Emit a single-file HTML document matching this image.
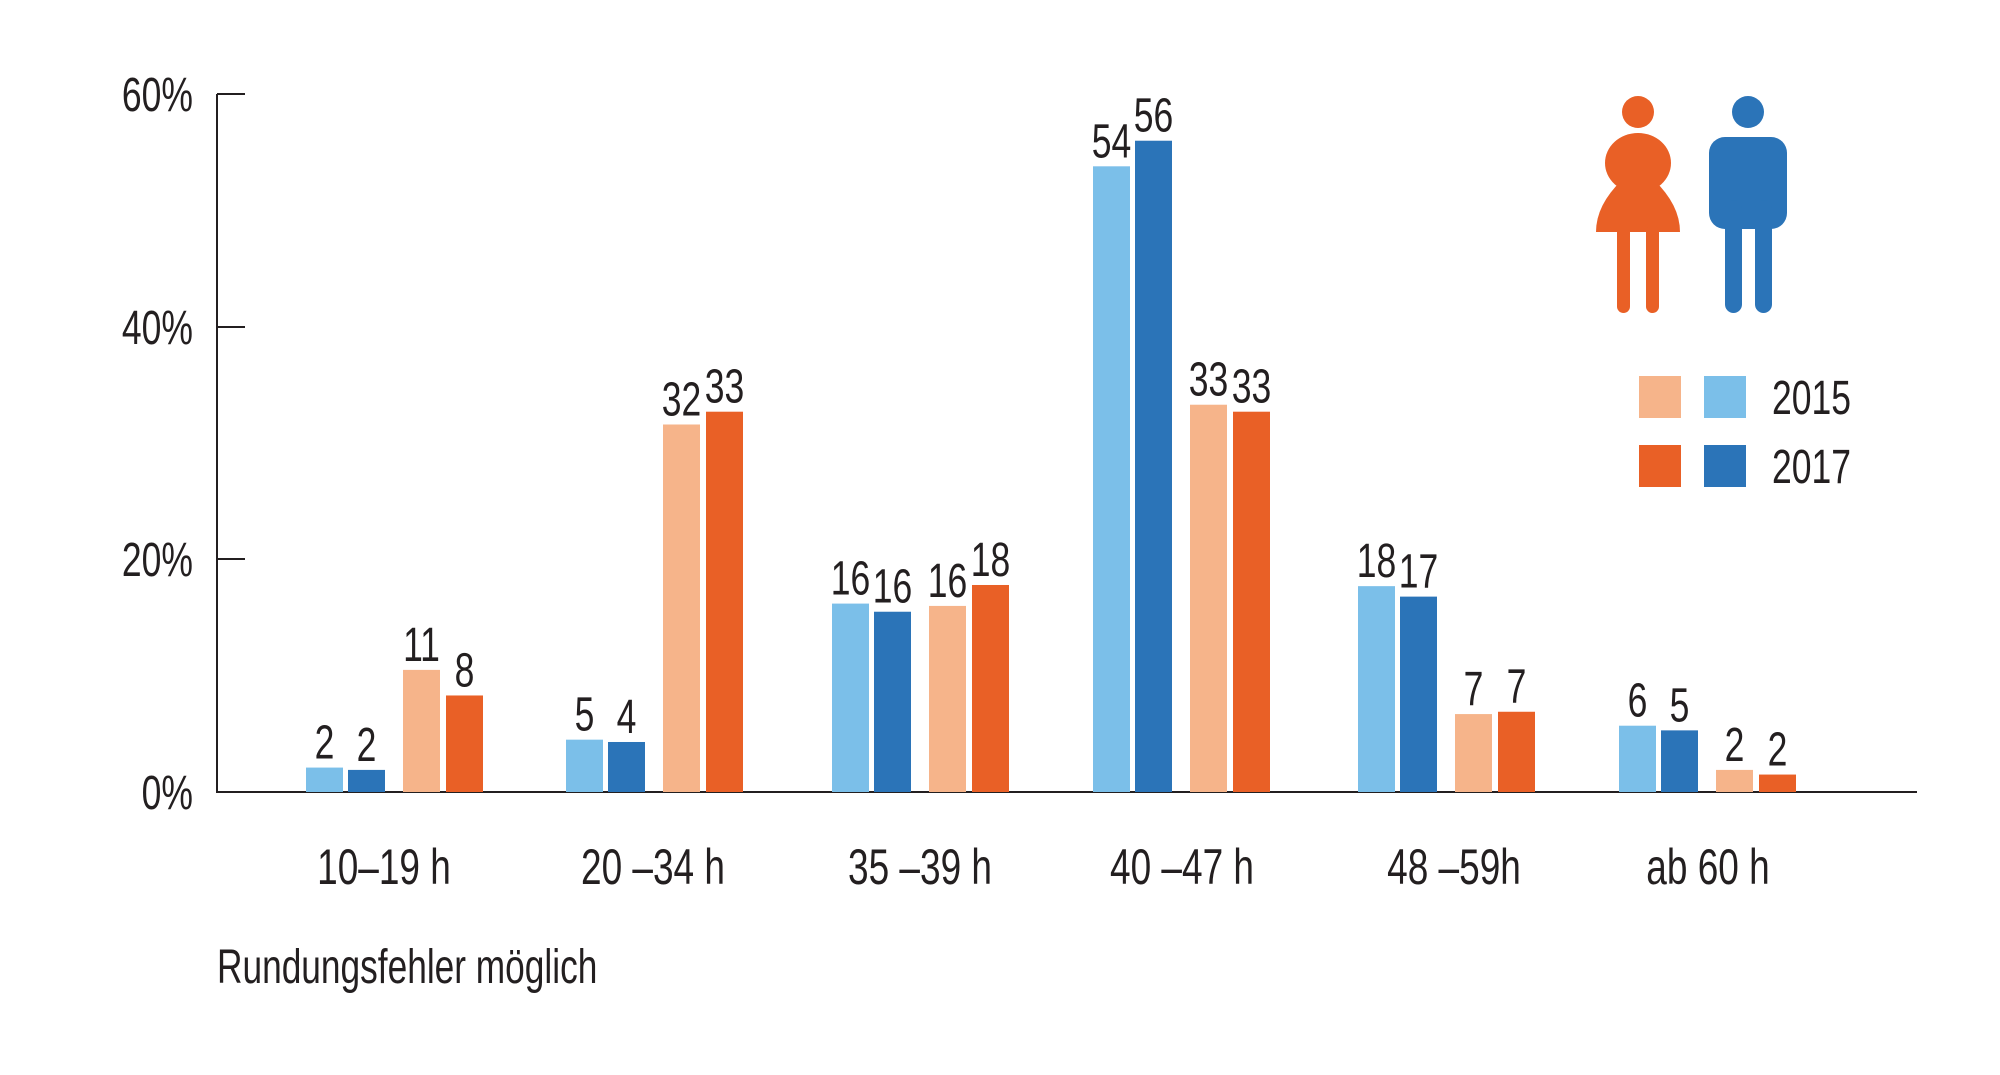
<!DOCTYPE html>
<html><head><meta charset="utf-8"><style>html,body{margin:0;padding:0;background:#fff}svg{display:block}text{font-family:"Liberation Sans Narrow","Liberation Sans",sans-serif;fill:#231f20}</style></head>
<body>
<svg width="2000" height="1075" viewBox="0 0 2000 1075" xmlns="http://www.w3.org/2000/svg">
<g stroke="#231f20" stroke-width="2" fill="none">
<line x1="217" y1="94" x2="217" y2="792"/>
<line x1="216" y1="792" x2="1917" y2="792"/>
<line x1="217" y1="94" x2="245" y2="94"/>
<line x1="217" y1="327" x2="245" y2="327"/>
<line x1="217" y1="559" x2="245" y2="559"/>
</g>
<g font-size="48" text-anchor="end">
<text x="193" y="111" transform="translate(193 0) scale(0.74 1) translate(-193 0)">60%</text>
<text x="193" y="344" transform="translate(193 0) scale(0.74 1) translate(-193 0)">40%</text>
<text x="193" y="576" transform="translate(193 0) scale(0.74 1) translate(-193 0)">20%</text>
<text x="193" y="809" transform="translate(193 0) scale(0.74 1) translate(-193 0)">0%</text>
</g>
<g id="bars"></g>
<g id="labels" font-size="48" text-anchor="middle"></g>
<g font-size="50" text-anchor="middle" id="cats"></g>
<text x="217" y="983" font-size="48" transform="translate(217 0) scale(0.735 1) translate(-217 0)">Rundungsfehler möglich</text>
<rect x="1639" y="376" width="42" height="42" fill="#f6b48a"/>
<rect x="1704" y="376" width="42" height="42" fill="#7bbfe9"/>
<rect x="1639" y="445" width="42" height="42" fill="#e96026"/>
<rect x="1704" y="445" width="42" height="42" fill="#2b74b8"/>
<text x="1772" y="414" font-size="48" transform="translate(1772 0) scale(0.74 1) translate(-1772 0)">2015</text>
<text x="1772" y="483" font-size="48" transform="translate(1772 0) scale(0.74 1) translate(-1772 0)">2017</text>
<g fill="#e96026">
<circle cx="1638" cy="112" r="16"/>
<ellipse cx="1638" cy="163" rx="33" ry="30"/>
<path d="M1622 180 L1654 180 Q1680 205 1680 232 L1596 232 Q1596 205 1622 180 Z"/>
<rect x="1617" y="225" width="13" height="88" rx="6.5"/>
<rect x="1646" y="225" width="13" height="88" rx="6.5"/>
</g>
<g fill="#2b74b8">
<circle cx="1748" cy="112" r="16"/>
<rect x="1709" y="137" width="78" height="92" rx="16"/>
<rect x="1725" y="200" width="17" height="113" rx="8.5"/>
<rect x="1755" y="200" width="17" height="113" rx="8.5"/>
</g>
<script>
var starts=[306,566,832,1093,1358,1619];
var off=[0,42,97,140];
var cols=["#7bbfe9","#2b74b8","#f6b48a","#e96026"];
var h=[[2.1,1.9,10.5,8.3],[4.5,4.3,31.6,32.7],[16.2,15.5,16.0,17.8],[53.8,56.0,33.3,32.7],[17.7,16.8,6.7,6.9],[5.7,5.3,1.9,1.5]];
var lab=[[2,2,11,8],[5,4,32,33],[16,16,16,18],[54,56,33,33],[18,17,7,7],[6,5,2,2]];
var cats=["10–19 h","20 –34 h","35 –39 h","40 –47 h","48 –59h","ab 60 h"];
var cx=[384,653,920,1182,1454,1708];
var ns="http://www.w3.org/2000/svg";
var B=document.getElementById("bars"),L=document.getElementById("labels"),C=document.getElementById("cats");
for(var g=0;g<6;g++){for(var i=0;i<4;i++){var x=starts[g]+off[i],hh=h[g][i]*11.63,y=792-hh;
var r=document.createElementNS(ns,"rect");r.setAttribute("x",x);r.setAttribute("y",y);r.setAttribute("width",37);r.setAttribute("height",hh);r.setAttribute("fill",cols[i]);B.appendChild(r);
var t=document.createElementNS(ns,"text");var tx=x+18.5;t.setAttribute("x",tx);t.setAttribute("y",y-9);t.setAttribute("transform","translate("+tx+" 0) scale(0.74 1) translate("+(-tx)+" 0)");t.textContent=lab[g][i];L.appendChild(t);}
var c=document.createElementNS(ns,"text");c.setAttribute("x",cx[g]);c.setAttribute("y",884);c.setAttribute("transform","translate("+cx[g]+" 0) scale(0.74 1) translate("+(-cx[g])+" 0)");c.textContent=cats[g];C.appendChild(c);}
</script>
</svg>
</body></html>
